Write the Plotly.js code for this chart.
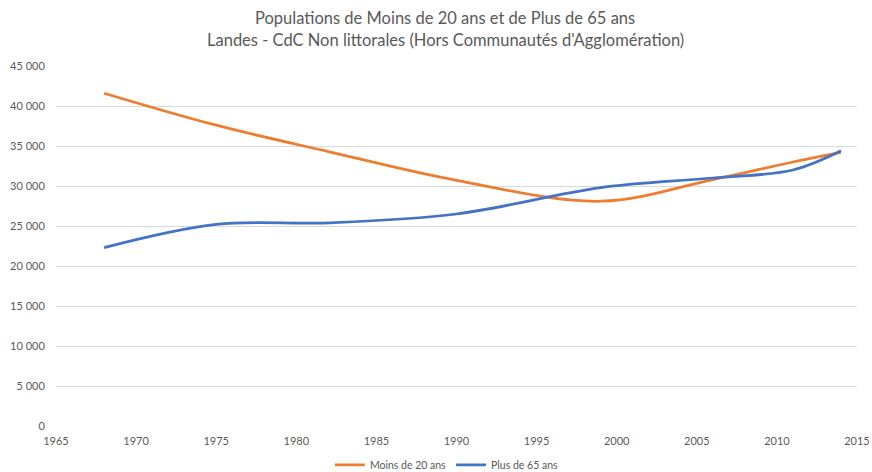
<!DOCTYPE html>
<html>
<head>
<meta charset="utf-8">
<script src="https://cdn.plot.ly/plotly-3.0.1.min.js"></script>
<style>html,body{margin:0;padding:0;background:#fff}#chart{width:872px;height:472px}</style>
</head>
<body>
<div id="chart"></div>
<script>
const years = [1968, 1975, 1982, 1990, 1999, 2006, 2011, 2014];
const moins20 = [41600, 37600, 34300, 30700, 28100, 30800, 33000, 34200];
const plus65 = [22300, 25200, 25400, 26500, 29800, 31000, 32000, 34400];
const seriesNames = ["Moins de 20 ans", "Plus de 65 ans"];
const titleLines = ["Populations de Moins de 20 ans et de Plus de 65 ans", "Landes - CdC Non littorales (Hors Communautés d'Agglomération)"];

const FONT = "Lato, 'Open Sans', sans-serif";
const traces = [
  {x: years, y: moins20, name: seriesNames[0], type: "scatter", mode: "lines",
   line: {color: "#ED7D31", width: 2.75, shape: "spline", smoothing: 1}},
  {x: years, y: plus65, name: seriesNames[1], type: "scatter", mode: "lines",
   line: {color: "#4472C4", width: 2.75, shape: "spline", smoothing: 1}}
];
const layout = {
  width: 872, height: 472,
  margin: {l: 56, r: 15, t: 66, b: 46, autoexpand: false},
  paper_bgcolor: "#fff", plot_bgcolor: "#fff",
  separators: ", ",
  font: {family: FONT, color: "#595959", size: 10},
  annotations: titleLines.map((t, i) => ({
    text: t, xref: "paper", yref: "paper", x: 0.486, xanchor: "center",
    y: 1 + (66 - (18 + 22 * i)) / 360, yanchor: "middle", showarrow: false,
    font: {family: FONT, size: 16.5, color: "#595959"}
  })),
  xaxis: {range: [1965, 2015], dtick: 5, tick0: 1965, tickformat: "d", showgrid: false,
          zeroline: false, showline: false, ticks: "outside", ticklen: 5, tickcolor: "rgba(0,0,0,0)",
          tickfont: {size: 11, color: "#595959"}},
  yaxis: {range: [0, 45000], dtick: 5000, tickformat: ",d", gridcolor: "#D9D9D9", gridwidth: 1,
          zeroline: false, showline: false, ticks: "outside", ticklen: 8, tickcolor: "rgba(0,0,0,0)",
          tickfont: {size: 11, color: "#595959"}},
  showlegend: true,
  legend: {orientation: "h", x: 0.488, xanchor: "center", y: -0.108, yanchor: "middle",
           font: {size: 10.5, color: "#595959"}}
};
Plotly.newPlot("chart", traces, layout, {displayModeBar: false, staticPlot: true});
</script>
</body>
</html>
